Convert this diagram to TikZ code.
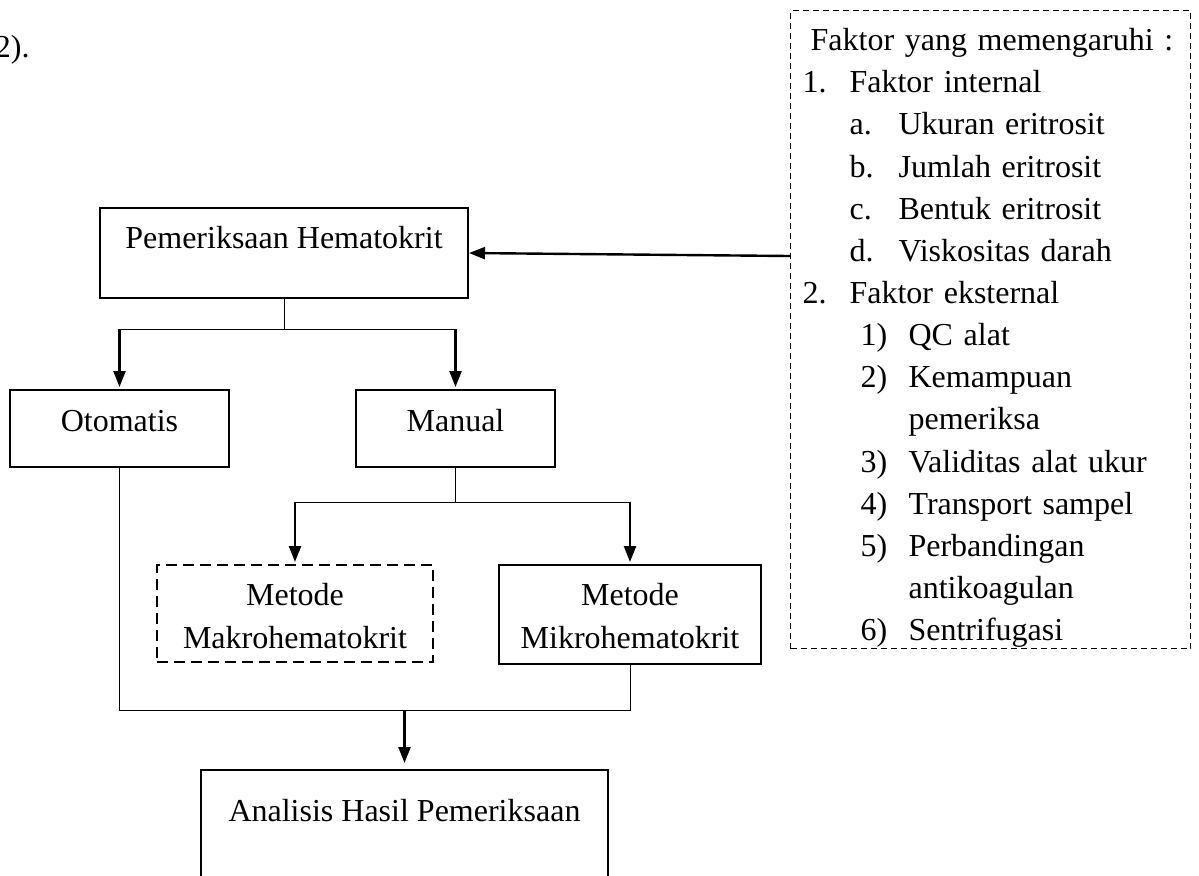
\documentclass[tikz,border=0pt]{standalone}
\usepackage{fontspec}
\setmainfont{Liberation Serif}
\usetikzlibrary{arrows.meta}

\begin{document}
\begin{tikzpicture}[x=0.5pt, y=-0.5pt,
        font=\fontsize{16}{21.07}\selectfont,
        box/.style={draw, line width=1pt, inner sep=0pt, anchor=north, align=center},
        dashbox/.style={box, dash pattern=on 5.5pt off 3pt},
        factorbox/.style={draw, line width=0.6pt, dash pattern=on 3pt off 2pt, anchor=north west,
            inner xsep=6pt, inner ysep=0pt, text width=188pt, align=left, text height=20pt, text depth=299pt},
        link/.style={line width=0.5pt},
        arr/.style={line width=1.2pt, -{Triangle[length=8pt, width=6pt]}}
    ]
    % Bidang gambar
    \path[use as bounding box, fill=white] (0,0) rectangle (1199,875);

    % Sisa teks di atas
    \node[anchor=base east, inner sep=0pt] (hal) at (30,57) {2).};

    % Kotak alur
    \node[box, minimum width=184pt, text height=20pt, text depth=25pt] (hema) at (284,207) {Pemeriksaan Hematokrit};
    \node[box, minimum width=109.5pt, text height=20.5pt, text depth=18pt] (oto) at (119.5,389) {Otomatis};
    \node[box, minimum width=99.5pt, text height=20.5pt, text depth=18pt] (man) at (455.5,389) {Manual};
    \node[dashbox, minimum width=138pt, text height=41.5pt, text depth=7pt] (makro) at (295,564) {Metode\\Makrohematokrit};
    \node[box, minimum width=131pt, text height=41.5pt, text depth=8pt] (mikro) at (630,564) {Metode\\Mikrohematokrit};
    \node[box, minimum width=203.5pt, text height=25.5pt, text depth=45pt] (anal) at (404.5,769) {Analisis Hasil Pemeriksaan};

    % Faktor yang memengaruhi
    \node[factorbox] (fak) at (790,10) {%
        \hspace*{4pt}Faktor yang memengaruhi :\\
        \makebox[23.5pt][l]{1.}Faktor internal\\
        \hspace*{23.5pt}\makebox[24.5pt][l]{a.}Ukuran eritrosit\\
        \hspace*{23.5pt}\makebox[24.5pt][l]{b.}Jumlah eritrosit\\
        \hspace*{23.5pt}\makebox[24.5pt][l]{c.}Bentuk eritrosit\\
        \hspace*{23.5pt}\makebox[24.5pt][l]{d.}Viskositas darah\\
        \makebox[23.5pt][l]{2.}Faktor eksternal\\
        \hspace*{29pt}\makebox[24pt][l]{1)}QC alat\\
        \hspace*{29pt}\makebox[24pt][l]{2)}Kemampuan\\
        \hspace*{53pt}pemeriksa\\
        \hspace*{29pt}\makebox[24pt][l]{3)}Validitas alat ukur\\
        \hspace*{29pt}\makebox[24pt][l]{4)}Transport sampel\\
        \hspace*{29pt}\makebox[24pt][l]{5)}Perbandingan\\
        \hspace*{53pt}antikoagulan\\
        \hspace*{29pt}\makebox[24pt][l]{6)}Sentrifugasi};
    \coordinate (fakin) at (790,256);
    \draw[arr] (fakin) -- (hema.east);

    % Cabang pertama
    \coordinate (bar1) at (284,329);
    \draw[link] (hema.south) -- (bar1);
    \draw[link] (oto.north |- bar1) -- (man.north |- bar1);
    \draw[arr, shorten >=1pt] (oto.north |- bar1) -- (oto.north);
    \draw[arr, shorten >=1pt] (man.north |- bar1) -- (man.north);

    % Cabang manual
    \coordinate (bar2) at (455.5,502);
    \draw[link] (man.south) -- (bar2);
    \draw[link] (makro.north |- bar2) -- (mikro.north |- bar2);
    \draw[arr, shorten >=1pt] (makro.north |- bar2) -- (makro.north);
    \draw[arr, shorten >=1pt] (mikro.north |- bar2) -- (mikro.north);

    % Gabungan ke analisis
    \coordinate (bar3) at (404.5,710);
    \draw[link] (oto.south) -- (oto.south |- bar3) -- (mikro.south |- bar3) -- (mikro.south);
    \draw[arr, shorten >=3pt] (bar3) -- (anal.north);
\end{tikzpicture}
\end{document}
